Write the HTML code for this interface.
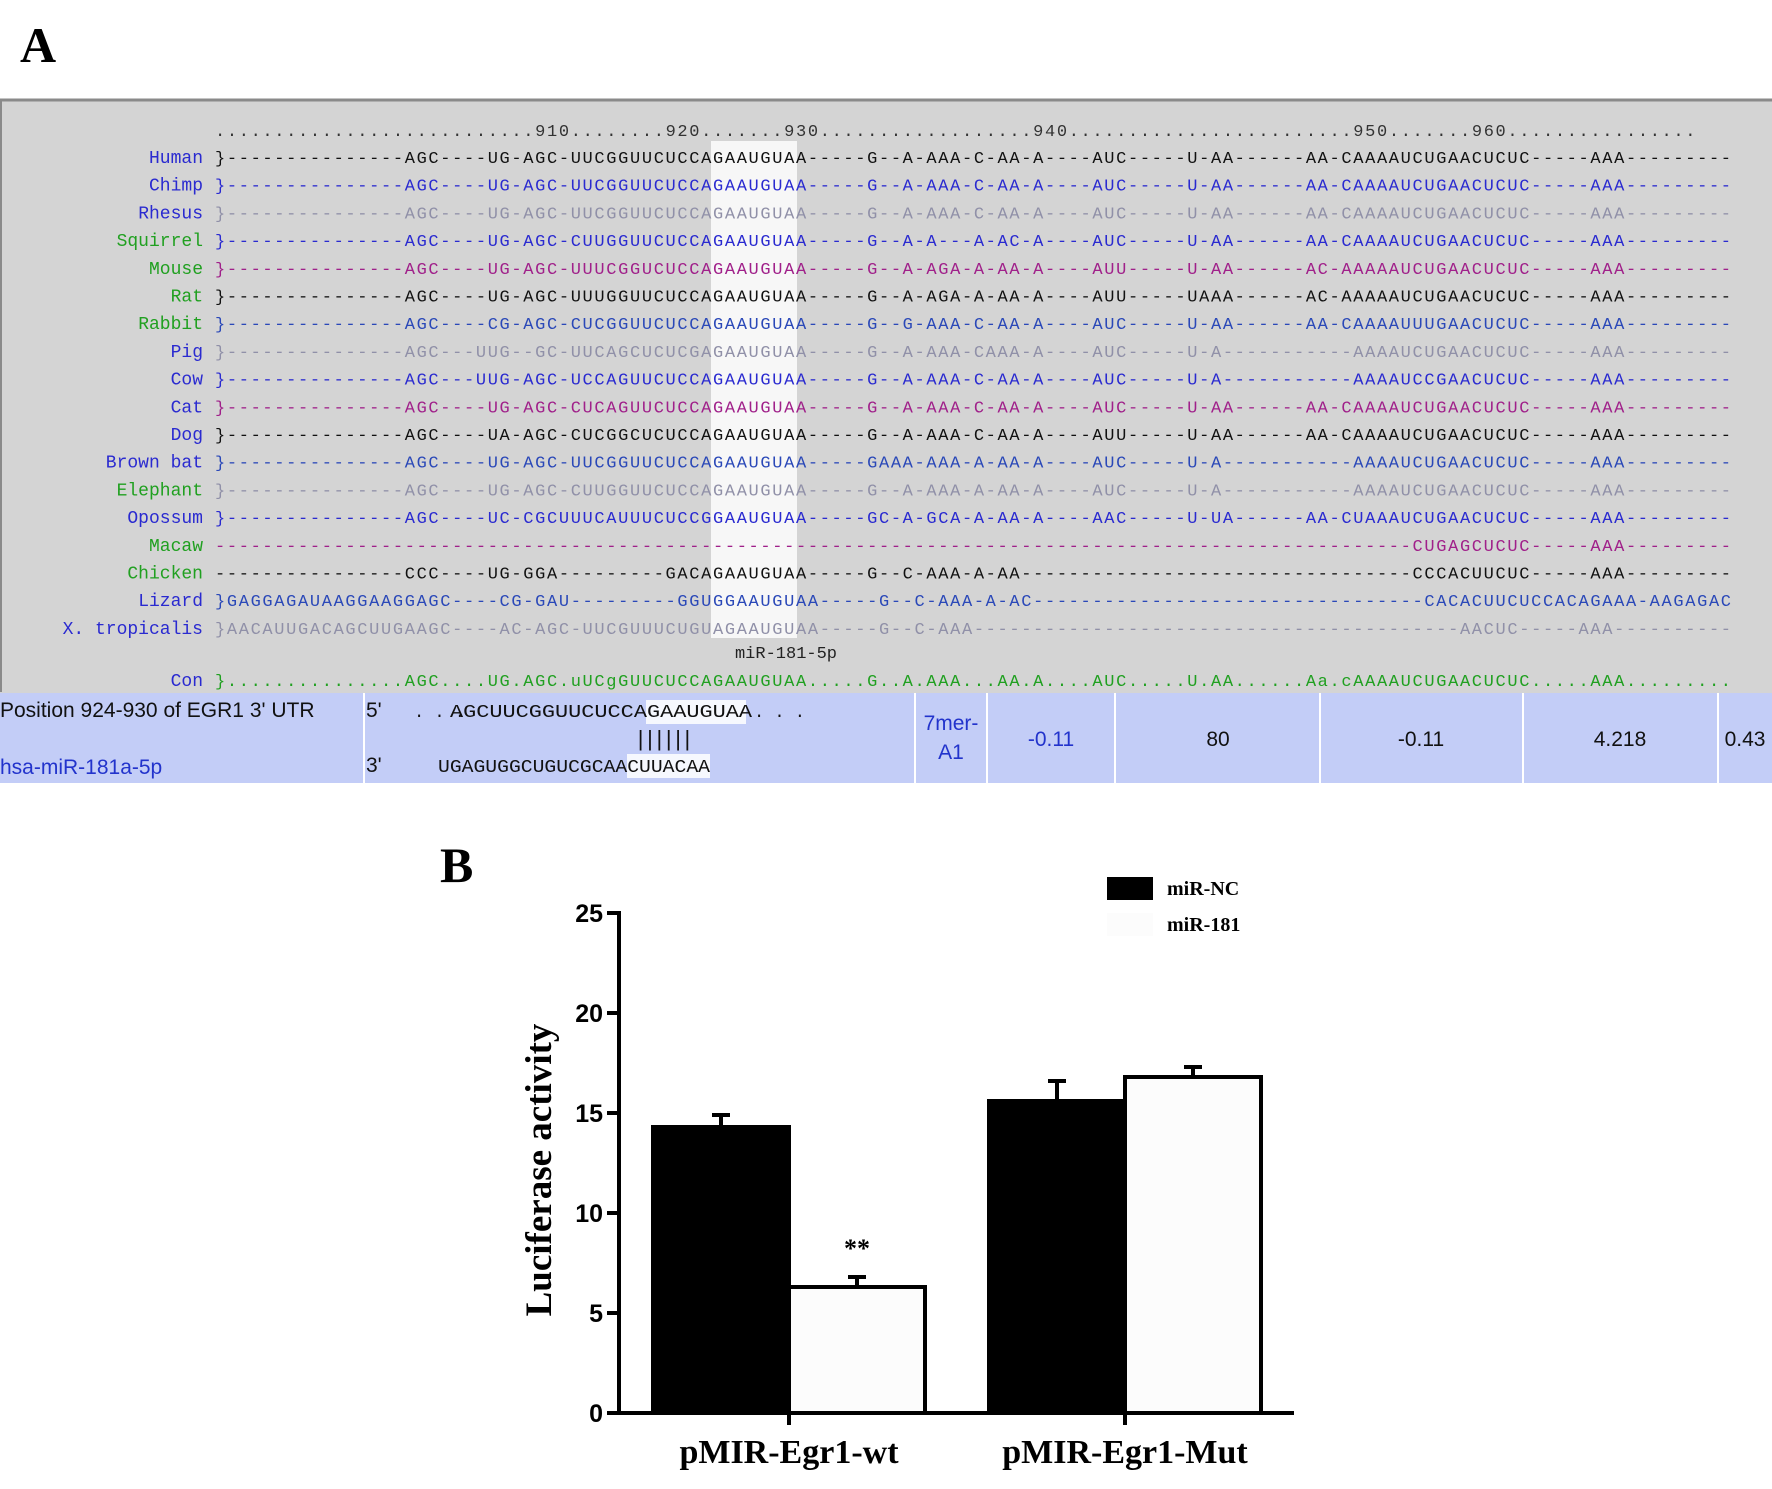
<!DOCTYPE html>
<html><head><meta charset="utf-8"><style>
html,body{margin:0;padding:0;background:#fff;}
svg{display:block;}
</style></head><body>
<svg id="fig" width="1772" height="1489" viewBox="0 0 1772 1489" xmlns="http://www.w3.org/2000/svg">
<text x="20" y="62" font-family="Liberation Serif, serif" font-weight="bold" font-size="50">A</text>
<rect x="0" y="99" width="1772" height="594" fill="#d4d4d4"/>
<line x1="0" y1="100" x2="1772" y2="100" stroke="#8a8a8a" stroke-width="3"/>
<line x1="1" y1="100" x2="1" y2="692" stroke="#8a8a8a" stroke-width="2"/>
<rect x="711" y="141" width="86" height="497" fill="#ffffff" opacity="0.8"/>
<g id="align"></g>
<text x="786" y="658" font-family="Liberation Mono, monospace" font-size="17" text-anchor="middle" fill="#222">miR-181-5p</text>

<rect x="0" y="693" width="1772" height="90" fill="#c3cdf7"/>
<g stroke="#fff" stroke-width="2">
<line x1="364" y1="693" x2="364" y2="783"/><line x1="915" y1="693" x2="915" y2="783"/><line x1="987" y1="693" x2="987" y2="783"/><line x1="1115" y1="693" x2="1115" y2="783"/><line x1="1320" y1="693" x2="1320" y2="783"/><line x1="1523" y1="693" x2="1523" y2="783"/><line x1="1718" y1="693" x2="1718" y2="783"/>
</g>
<rect x="646" y="700" width="100" height="24" fill="#fff" opacity="0.85"/>
<rect x="627" y="754" width="83" height="24" fill="#fff" opacity="0.85"/>
<g font-family="Liberation Sans, sans-serif" font-size="21">
<text x="0" y="717" fill="#111">Position 924-930 of EGR1 3' UTR</text>
<text x="0" y="774" fill="#2233cc">hsa-miR-181a-5p</text>
<text x="366" y="717" fill="#111">5'</text>
<text x="366" y="772" fill="#111">3'</text>
<text x="414" y="717" font-family="Liberation Mono, monospace" font-size="17" fill="#111">. . .</text>
<text x="450" y="717" font-family="Liberation Mono, monospace" font-size="18" fill="#111" textLength="302" lengthAdjust="spacingAndGlyphs">AGCUUCGGUUCUCCAGAAUGUAA</text>
<text x="754" y="717" font-family="Liberation Mono, monospace" font-size="17" fill="#111">. . .</text>
<text x="634" y="746" font-family="Liberation Mono, monospace" font-size="22" fill="#111" textLength="60" lengthAdjust="spacing">||||||</text>
<text x="438" y="772" font-family="Liberation Mono, monospace" font-size="18" fill="#111" textLength="272" lengthAdjust="spacingAndGlyphs">UGAGUGGCUGUCGCAACUUACAA</text>
<text x="951" y="730" fill="#2233cc" text-anchor="middle">7mer-</text>
<text x="951" y="759" fill="#2233cc" text-anchor="middle">A1</text>
<text x="1051" y="746" fill="#2233cc" text-anchor="middle">-0.11</text>
<text x="1218" y="746" fill="#111" text-anchor="middle">80</text>
<text x="1421" y="746" fill="#111" text-anchor="middle">-0.11</text>
<text x="1620" y="746" fill="#111" text-anchor="middle">4.218</text>
<text x="1745" y="746" fill="#111" text-anchor="middle">0.43</text>
</g>

<text x="440" y="882" font-family="Liberation Serif, serif" font-weight="bold" font-size="50">B</text>
<g id="chart"></g>
</svg>
<script>
// ---------- alignment ----------
const species = ["Human","Chimp","Rhesus","Squirrel","Mouse","Rat","Rabbit","Pig","Cow","Cat","Dog","Brown bat","Elephant","Opossum","Macaw","Chicken","Lizard","X. tropicalis"];
const D = n => "-".repeat(n);
const T = "-----AAA---------";
const seqs = [
"}"+D(15)+"AGC----UG-AGC-UUCGGUUCUCCAGAAUGUAA-----G--A-AAA-C-AA-A----AUC-----U-AA------AA-CAAAAUCUGAACUCUC"+T,
"}"+D(15)+"AGC----UG-AGC-UUCGGUUCUCCAGAAUGUAA-----G--A-AAA-C-AA-A----AUC-----U-AA------AA-CAAAAUCUGAACUCUC"+T,
"}"+D(15)+"AGC----UG-AGC-UUCGGUUCUCCAGAAUGUAA-----G--A-AAA-C-AA-A----AUC-----U-AA------AA-CAAAAUCUGAACUCUC"+T,
"}"+D(15)+"AGC----UG-AGC-CUUGGUUCUCCAGAAUGUAA-----G--A-A---A-AC-A----AUC-----U-AA------AA-CAAAAUCUGAACUCUC"+T,
"}"+D(15)+"AGC----UG-AGC-UUUCGGUCUCCAGAAUGUAA-----G--A-AGA-A-AA-A----AUU-----U-AA------AC-AAAAAUCUGAACUCUC"+T,
"}"+D(15)+"AGC----UG-AGC-UUUGGUUCUCCAGAAUGUAA-----G--A-AGA-A-AA-A----AUU-----UAAA------AC-AAAAAUCUGAACUCUC"+T,
"}"+D(15)+"AGC----CG-AGC-CUCGGUUCUCCAGAAUGUAA-----G--G-AAA-C-AA-A----AUC-----U-AA------AA-CAAAAUUUGAACUCUC"+T,
"}"+D(15)+"AGC---UUG--GC-UUCAGCUCUCGAGAAUGUAA-----G--A-AAA-CAAA-A----AUC-----U-A-----------AAAAUCUGAACUCUC"+T,
"}"+D(15)+"AGC---UUG-AGC-UCCAGUUCUCCAGAAUGUAA-----G--A-AAA-C-AA-A----AUC-----U-A-----------AAAAUCCGAACUCUC"+T,
"}"+D(15)+"AGC----UG-AGC-CUCAGUUCUCCAGAAUGUAA-----G--A-AAA-C-AA-A----AUC-----U-AA------AA-CAAAAUCUGAACUCUC"+T,
"}"+D(15)+"AGC----UA-AGC-CUCGGCUCUCCAGAAUGUAA-----G--A-AAA-C-AA-A----AUU-----U-AA------AA-CAAAAUCUGAACUCUC"+T,
"}"+D(15)+"AGC----UG-AGC-UUCGGUUCUCCAGAAUGUAA-----GAAA-AAA-A-AA-A----AUC-----U-A-----------AAAAUCUGAACUCUC"+T,
"}"+D(15)+"AGC----UG-AGC-CUUGGUUCUCCAGAAUGUAA-----G--A-AAA-A-AA-A----AUC-----U-A-----------AAAAUCUGAACUCUC"+T,
"}"+D(15)+"AGC----UC-CGCUUUCAUUUCUCCGGAAUGUAA-----GC-A-GCA-A-AA-A----AAC-----U-UA------AA-CUAAAUCUGAACUCUC"+T,
D(101)+"CUGAGCUCUC"+T,
D(16)+"CCC----UG-GGA---------GACAGAAUGUAA-----G--C-AAA-A-AA"+D(33)+"CCCACUUCUC"+T,
"}GAGGAGAUAAGGAAGGAGC----CG-GAU---------GGUGGAAUGUAA-----G--C-AAA-A-AC"+D(33)+"CACACUUCUCCACAGAAA-AAGAGAC",
"}AACAUUGACAGCUUGAAGC----AC-AGC-UUCGUUUCUGUAGAAUGUAA-----G--C-AAA"+D(41)+"AACUC"+T
];
const seqColors = ["#111","#2a2ad0","#9090a8","#2a2ad0","#a0208a","#111","#2a48b8","#9090a8","#2a2ad0","#a0208a","#111","#2a48b8","#9090a8","#2a2ad0","#a0208a","#111","#2a48b8","#9090a8"];
const labelColors = ["#2a2ad0","#2a2ad0","#2a2ad0","#20a020","#20a020","#20a020","#20a020","#2a2ad0","#2a2ad0","#2a2ad0","#2a2ad0","#2a2ad0","#20a020","#2a2ad0","#20a020","#20a020","#2a2ad0","#2a2ad0"];
const NS="http://www.w3.org/2000/svg";
const ag=document.getElementById('align');
const X0=215, W=1516, COLW=W/128;
function mk(tag,attrs,parent){const e=document.createElementNS(NS,tag);for(const k in attrs)e.setAttribute(k,attrs[k]);parent.appendChild(e);return e;}
const ruler=mk('text',{x:X0,y:136,'font-family':'Liberation Mono, monospace','font-size':17,fill:'#333',textLength:W,lengthAdjust:'spacing'},ag);


let r=".".repeat(128).split("");
[[27,"910"],[38,"920"],[48,"930"],[69,"940"],[96,"950"],[106,"960"]].forEach(([c,s])=>{for(let i=0;i<3;i++)r[c+i]=s[i];});
ruler.textContent=r.join("").slice(0,125);
ruler.setAttribute('textLength',125*COLW);
function row(label,seq,lc,sc,y,name){
  const l=mk('text',{x:203,y:y,'text-anchor':'end','font-family':'Liberation Mono, monospace','font-size':18,fill:lc},ag);
  
  
  l.textContent=label;
  let s=seq; if(s.length<128)s=s+D(128-s.length); s=s.slice(0,128);
  const t=mk('text',{x:X0,y:y,'font-family':'Liberation Mono, monospace','font-size':17,fill:sc,textLength:W,lengthAdjust:'spacing'},ag);
  
  
  t.textContent=s;
}
species.forEach((sp,i)=>row(sp,seqs[i],labelColors[i],seqColors[i],163+i*27.7,sp.toLowerCase().replace(/[^a-z]+/g,'-')));
row("Con","}..............."+"AGC....UG.AGC.uUCgGUUCUCCAGAAUGUAA.....G..A.AAA...AA.A....AUC.....U.AA......Aa.cAAAAUCUGAACUCUC.....AAA.........","#2a2ad0","#20a020",686,"consensus");

// ---------- bar chart ----------
const categories = ["pMIR-Egr1-wt","pMIR-Egr1-Mut"];
const seriesNames = ["miR-NC","miR-181"];
const ncValues = [14.3, 15.6];
const mirValues = [6.3, 16.8];
const ncErrors = [0.6, 1.0];
const mirErrors = [0.5, 0.5];
const yTicks = [0,5,10,15,20,25];

const cg=document.getElementById('chart');
const AX=619, AY=1413, YMAX=25, PH=500;
const y = v => AY - v/YMAX*PH;
const groupLeft = [653, 989];
const BW = 136;
const serif='Liberation Serif, serif';
categories.forEach((c,i)=>{
  [[ncValues,ncErrors,'#000','nc'],[mirValues,mirErrors,'#fcfcfc','mir181']].forEach(([vals,errs,fill,key],j)=>{
    const bx=groupLeft[i]+j*BW, v=vals[i], e=errs[i];
    const eb=mk('path',{d:`M${bx+BW/2} ${y(v)} V${y(v+e)} M${bx+BW/2-9} ${y(v+e)} H${bx+BW/2+9}`,stroke:'#000','stroke-width':4,fill:'none'},cg);
    
    
    const b=mk('rect',{x:bx,y:y(v),width:BW,height:AY-y(v),fill:fill,stroke:'#000','stroke-width':4},cg);
    
    
  });
  const tk=mk('line',{x1:groupLeft[i]+BW,y1:AY,x2:groupLeft[i]+BW,y2:AY+12,stroke:'#000','stroke-width':4},cg);
  
  
  const lb=mk('text',{x:groupLeft[i]+BW,y:1463,'text-anchor':'middle','font-family':serif,'font-weight':'bold','font-size':34},cg);
  
  
  lb.textContent=c;
});
const st=mk('text',{x:groupLeft[0]+BW*1.5,y:y(mirValues[0]+mirErrors[0])-20,'text-anchor':'middle','font-family':serif,'font-weight':'bold','font-size':26},cg);


st.textContent='**';
const ya=mk('line',{x1:AX,y1:y(YMAX)-2,x2:AX,y2:AY+2,stroke:'#000','stroke-width':4},cg);


const xa=mk('line',{x1:AX-2,y1:AY,x2:1294,y2:AY,stroke:'#000','stroke-width':4},cg);


yTicks.forEach(t=>{
  const l=mk('line',{x1:AX-12,y1:y(t),x2:AX,y2:y(t),stroke:'#000','stroke-width':4},cg);
  
  
  const tx=mk('text',{x:AX-16,y:y(t)+9,'text-anchor':'end','font-family':'Liberation Sans, sans-serif','font-weight':'bold','font-size':25},cg);
  
  
  tx.textContent=t;
});
const yt=mk('text',{x:0,y:0,'text-anchor':'middle','font-family':serif,'font-weight':'bold','font-size':37,transform:'translate(551,1170) rotate(-90)'},cg);


yt.textContent='Luciferase activity';
const legFill=['#000','#fcfcfc'];
seriesNames.forEach((n,i)=>{
  const r=mk('rect',{x:1107,y:877+i*36,width:46,height:23,fill:legFill[i]},cg);
  
  
  const t=mk('text',{x:1167,y:895+i*36,'font-family':serif,'font-weight':'bold','font-size':20},cg);
  
  
  t.textContent=n;
});
</script>
</body></html>
